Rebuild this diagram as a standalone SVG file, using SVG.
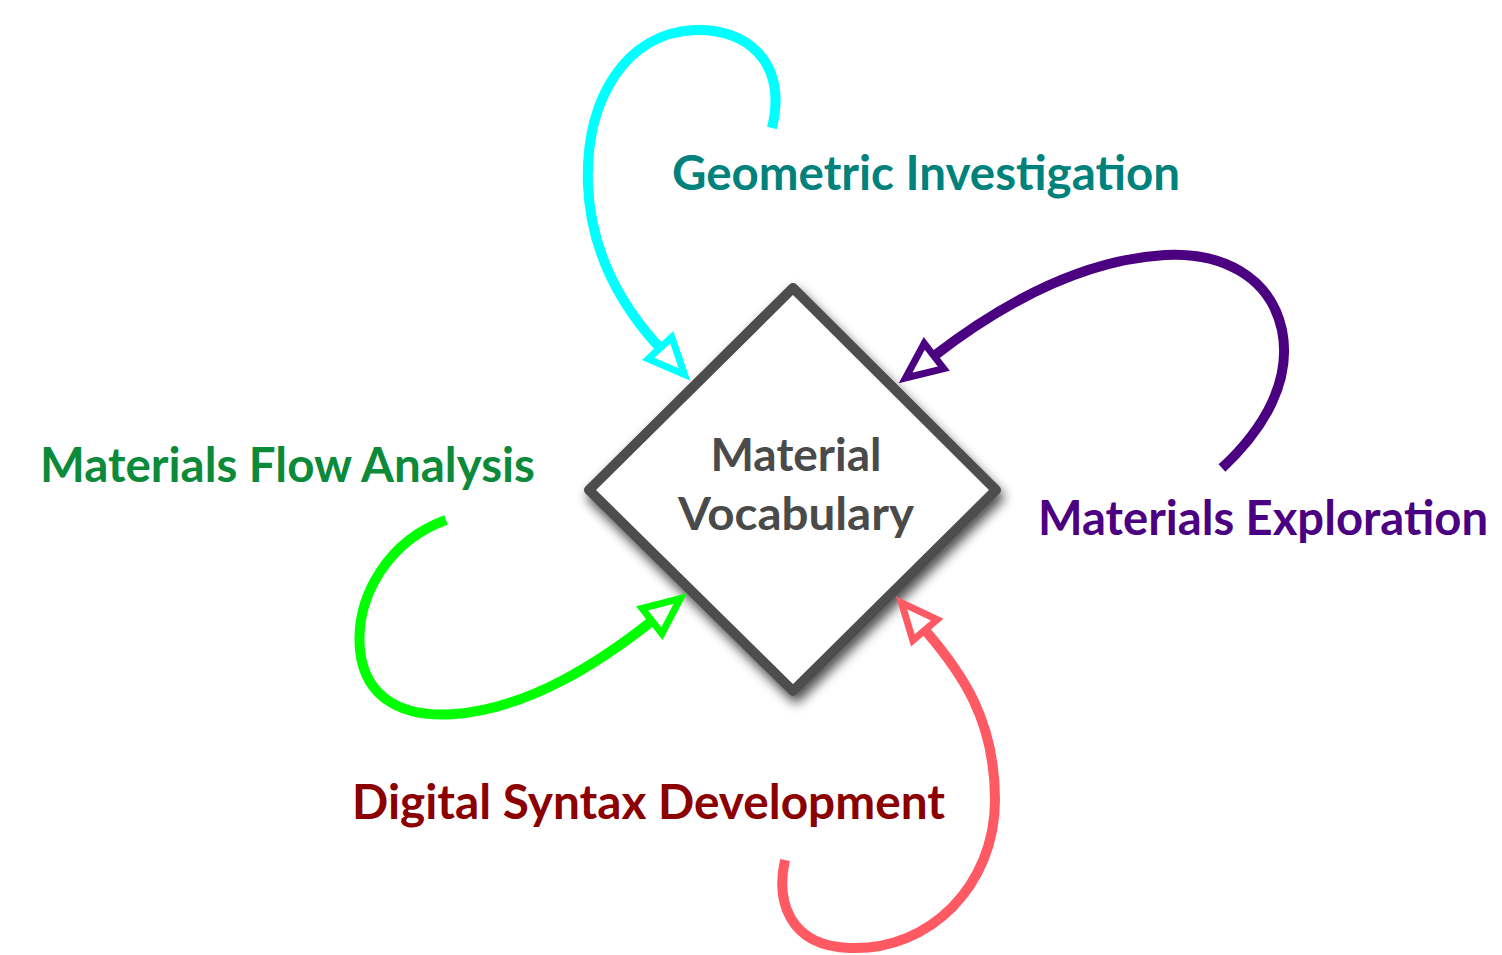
<svg xmlns="http://www.w3.org/2000/svg" width="1502" height="955" viewBox="0 0 1502 955">
<defs>
<style>
.lbl{font-family:"Lato","Open Sans","Liberation Sans",sans-serif;font-weight:bold;font-size:48px}
.ctr{font-family:"Lato","Open Sans","Liberation Sans",sans-serif;font-weight:bold;font-size:46px;fill:#4a4a4a}
.conn{fill:none;stroke-width:10;stroke-linecap:butt}
</style>
<filter id="shadow" x="-20%" y="-20%" width="140%" height="140%">
<feGaussianBlur in="SourceAlpha" stdDeviation="6"/>
<feOffset dx="3" dy="7" result="b"/>
<feComponentTransfer><feFuncA type="linear" slope="0.7"/></feComponentTransfer>
<feMerge><feMergeNode/><feMergeNode in="SourceGraphic"/></feMerge>
</filter>
<marker id="mC" viewBox="-5 -25 55 50" markerWidth="55" markerHeight="50" refX="0" refY="0" orient="auto" markerUnits="userSpaceOnUse"><polygon points="0,-16 36,0 0,16" fill="#fff" stroke="#00ffff" stroke-width="7"/></marker>
<marker id="mP" viewBox="-5 -25 55 50" markerWidth="55" markerHeight="50" refX="0" refY="0" orient="auto" markerUnits="userSpaceOnUse"><polygon points="0,-16 36,0 0,16" fill="#fff" stroke="#4b0082" stroke-width="7"/></marker>
<marker id="mG" viewBox="-5 -25 55 50" markerWidth="55" markerHeight="50" refX="0" refY="0" orient="auto" markerUnits="userSpaceOnUse"><polygon points="0,-16 36,0 0,16" fill="#fff" stroke="#00ff00" stroke-width="7"/></marker>
<marker id="mR" viewBox="-5 -25 55 50" markerWidth="55" markerHeight="50" refX="0" refY="0" orient="auto" markerUnits="userSpaceOnUse"><polygon points="0,-16 36,0 0,16" fill="#fff" stroke="#ff5a64" stroke-width="7"/></marker>
</defs>
<rect width="1502" height="955" fill="#fff"/>
<g id="center">
<polygon points="793,288 996,490 793,691 589,490" fill="#fff" stroke="#4d4d4d" stroke-width="10" stroke-linejoin="round" filter="url(#shadow)"/>
<text class="ctr" x="796" y="471" text-anchor="middle">Material</text>
<text class="ctr" x="678" y="530" textLength="236" lengthAdjust="spacingAndGlyphs">Vocabulary</text>
</g>
<g id="connectors">
<path class="conn" stroke="#00ffff" marker-end="url(#mC)" d="M772,128 C788,60 745,28 695,30 C625,33 585,100 588,185 C591,255 622,307 660,348"/>
<path class="conn" stroke="#4b0082" marker-end="url(#mP)" d="M1222,468 C1265,428 1292,380 1282,330 C1270,275 1220,252 1165,255 C1080,260 1000,305 934,356"/>
<path class="conn" stroke="#00ff00" marker-end="url(#mG)" d="M446,520 C390,540 355,595 360,650 C365,700 405,718 455,714 C530,708 600,662 652,621"/>
<path class="conn" stroke="#ff5a64" marker-end="url(#mR)" d="M785,860 C776,900 788,946 850,948 C930,951 995,885 995,800 C995,720 962,673 925,630"/>
</g>
<g id="geometric"><text class="lbl" x="672" y="190" fill="#00827c" textLength="508" lengthAdjust="spacingAndGlyphs">Geometric Investigation</text></g>
<g id="flow"><text class="lbl" x="40" y="482" fill="#0b8a3a" textLength="495" lengthAdjust="spacingAndGlyphs">Materials Flow Analysis</text></g>
<g id="exploration"><text class="lbl" x="1038" y="535" fill="#4b0082" textLength="450" lengthAdjust="spacingAndGlyphs">Materials Exploration</text></g>
<g id="digital"><text class="lbl" x="352" y="819" fill="#8b0000" textLength="593" lengthAdjust="spacingAndGlyphs">Digital Syntax Development</text></g>
</svg>
